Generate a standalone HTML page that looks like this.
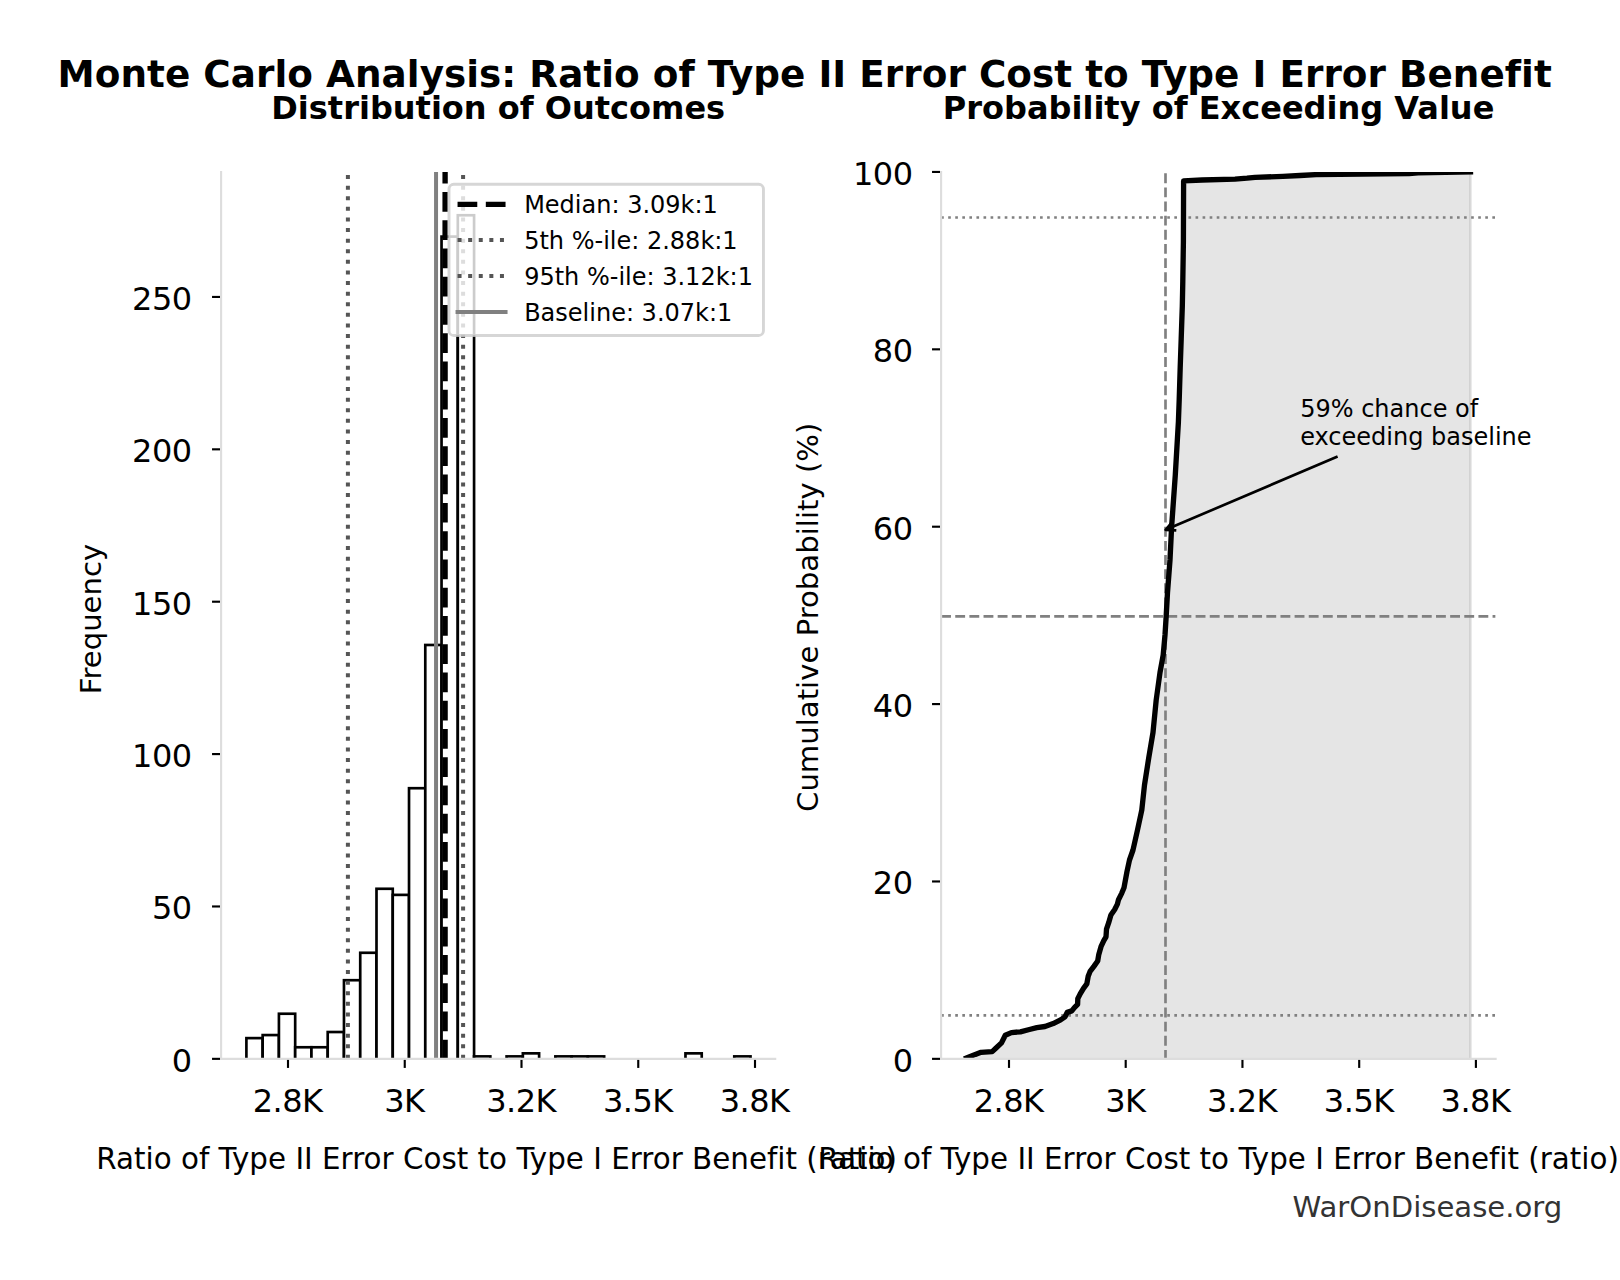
<!DOCTYPE html>
<html lang="en"><head><meta charset="utf-8"><title>Monte Carlo Analysis</title>
<style>html,body{margin:0;padding:0;background:#fff}body{width:1620px;height:1280px;overflow:hidden}svg{display:block}text{font-family:'DejaVu Sans','Liberation Sans',sans-serif;fill:#000;font-variant-ligatures:none;font-kerning:normal}</style>
</head><body>
<svg width="1620" height="1280" viewBox="0 0 1620 1280">
<rect width="1620" height="1280" fill="#ffffff"/>
<defs>
<clipPath id="c1"><rect x="221.1" y="172.0" width="554.1" height="886.8499999999999"/></clipPath>
<clipPath id="c2"><rect x="941.1" y="172.0" width="554.4999999999999" height="886.8499999999999"/></clipPath>
</defs>
<text x="57.6" y="87.2" font-size="37.333" font-weight="bold" textLength="1494.2" lengthAdjust="spacing">Monte Carlo Analysis: Ratio of Type II Error Cost to Type I Error Benefit</text>
<text x="498.2" y="118.7" font-size="32" font-weight="bold" text-anchor="middle">Distribution of Outcomes</text>
<text x="1218.6" y="118.7" font-size="32" font-weight="bold" text-anchor="middle">Probability of Exceeding Value</text>
<g id="hist">
<g clip-path="url(#c1)" fill="#ffffff" stroke="#000000" stroke-width="2.667" stroke-linejoin="miter">
<rect x="246.40" y="1038.12" width="16.26" height="22.23"/>
<rect x="262.66" y="1035.07" width="16.26" height="25.28"/>
<rect x="278.92" y="1013.74" width="16.26" height="46.61"/>
<rect x="295.19" y="1047.26" width="16.26" height="13.09"/>
<rect x="311.45" y="1047.26" width="16.26" height="13.09"/>
<rect x="327.71" y="1032.02" width="16.26" height="28.33"/>
<rect x="343.97" y="980.21" width="16.26" height="80.14"/>
<rect x="360.23" y="952.78" width="16.26" height="107.57"/>
<rect x="376.50" y="888.78" width="16.26" height="171.57"/>
<rect x="392.76" y="894.88" width="16.26" height="165.47"/>
<rect x="409.02" y="788.21" width="16.26" height="272.14"/>
<rect x="425.28" y="644.98" width="16.26" height="415.37"/>
<rect x="441.54" y="236.60" width="16.26" height="823.75"/>
<rect x="457.81" y="215.26" width="16.26" height="845.09"/>
<rect x="474.07" y="1056.40" width="16.26" height="3.95"/>
<rect x="506.59" y="1056.40" width="16.26" height="3.95"/>
<rect x="522.85" y="1053.35" width="16.26" height="7.00"/>
<rect x="555.38" y="1056.40" width="16.26" height="3.95"/>
<rect x="571.64" y="1056.40" width="16.26" height="3.95"/>
<rect x="587.90" y="1056.40" width="16.26" height="3.95"/>
<rect x="685.47" y="1053.35" width="16.26" height="7.00"/>
<rect x="734.26" y="1056.40" width="16.26" height="3.95"/>
</g>
<g clip-path="url(#c1)" fill="none">
<path d="M445.1 1059.55V172.0" stroke="#000" stroke-width="5.333" stroke-dasharray="19.73 8.53"/>
<path d="M347.9 1058.85V172.0" stroke="#555" stroke-width="4" stroke-dasharray="4 6.6"/>
<path d="M463.1 1058.85V172.0" stroke="#555" stroke-width="4" stroke-dasharray="4 6.6"/>
<path d="M436.05 1058.85V172.0" stroke="#808080" stroke-width="4"/>
</g>
<path d="M221.1 171.0V1058.85" stroke="#dddddd" stroke-width="2.13" fill="none"/>
<path d="M220.03 1058.85H776.2700000000001" stroke="#dddddd" stroke-width="2.13" fill="none"/>
<g stroke="#000" stroke-width="2.13" fill="none">
<path d="M288.0 1059.9199999999998v8"/>
<path d="M404.75 1059.9199999999998v8"/>
<path d="M521.5 1059.9199999999998v8"/>
<path d="M638.25 1059.9199999999998v8"/>
<path d="M755.0 1059.9199999999998v8"/>
<path d="M220.03 1058.85h-8"/>
<path d="M220.03 906.47h-8"/>
<path d="M220.03 754.09h-8"/>
<path d="M220.03 601.71h-8"/>
<path d="M220.03 449.33h-8"/>
<path d="M220.03 296.95h-8"/>
</g>
<g font-size="32" letter-spacing="-0.5">
<text x="287.60" y="1112" text-anchor="middle">2.8K</text>
<text x="404.35" y="1112" text-anchor="middle">3K</text>
<text x="521.10" y="1112" text-anchor="middle">3.2K</text>
<text x="637.85" y="1112" text-anchor="middle">3.5K</text>
<text x="754.60" y="1112" text-anchor="middle">3.8K</text>
<text x="191.6" y="1071.75" text-anchor="end">0</text>
<text x="191.6" y="919.37" text-anchor="end">50</text>
<text x="191.6" y="766.99" text-anchor="end">100</text>
<text x="191.6" y="614.61" text-anchor="end">150</text>
<text x="191.6" y="462.23" text-anchor="end">200</text>
<text x="191.6" y="309.85" text-anchor="end">250</text>
</g>
<text x="496.6" y="1169.0" font-size="29.333" text-anchor="middle" textLength="800.7" lengthAdjust="spacing">Ratio of Type II Error Cost to Type I Error Benefit (ratio)</text>
<text transform="translate(101.1 619) rotate(-90)" font-size="29.1" text-anchor="middle">Frequency</text>
<rect x="449.0" y="184.25" width="314.45" height="151.2" rx="4.8" ry="4.8" fill="#ffffff" fill-opacity="0.8" stroke="#cccccc" stroke-opacity="0.8" stroke-width="2.9"/>
<path d="M457.55 204.3H505.55" stroke="#000" stroke-width="5.333" stroke-dasharray="19.73 8.53" fill="none"/>
<path d="M457.55 240.0H505.55" stroke="#555" stroke-width="4" stroke-dasharray="4 6.6" fill="none"/>
<path d="M457.55 276.0H505.55" stroke="#555" stroke-width="4" stroke-dasharray="4 6.6" fill="none"/>
<path d="M457.55 312.0H505.55" stroke="#808080" stroke-width="4" fill="none" stroke-linecap="square"/>
<g font-size="24">
<text x="524.15" y="213.20">Median: 3.09k:1</text>
<text x="524.15" y="248.90">5th %-ile: 2.88k:1</text>
<text x="524.15" y="284.90">95th %-ile: 3.12k:1</text>
<text x="524.15" y="320.90">Baseline: 3.07k:1</text>
</g>
</g>
<g id="cdf">
<g clip-path="url(#c2)">
<path d="M966.5 1058.0 L975.3 1054.4 L981.0 1052.3 L992.2 1051.6 L995.8 1048.3 L1001.5 1042.9 L1005.3 1035.2 L1011.4 1032.6 L1020.4 1031.8 L1029.4 1029.5 L1036.8 1027.7 L1045.0 1026.5 L1053.2 1023.6 L1060.6 1019.9 L1065.0 1016.9 L1067.2 1012.4 L1071.8 1010.9 L1074.4 1007.6 L1077.6 1004.4 L1077.8 998.7 L1080.2 993.8 L1083.5 988.3 L1086.8 983.9 L1088.2 976.3 L1090.1 971.4 L1093.9 966.4 L1097.7 961.0 L1098.8 954.4 L1101.0 946.7 L1103.8 940.7 L1106.0 936.9 L1106.5 929.2 L1108.7 922.7 L1110.9 915.0 L1114.7 909.5 L1117.4 904.1 L1118.5 899.7 L1121.8 893.1 L1124.0 887.7 L1127.0 871.5 L1129.5 860.0 L1133.0 850.0 L1137.5 830.0 L1141.8 810.0 L1144.5 785.0 L1148.8 757.5 L1153.0 732.5 L1156.2 700.0 L1160.0 672.5 L1163.2 655.0 L1165.0 635.0 L1166.2 616.0 L1167.5 592.5 L1170.0 560.0 L1171.6 527.0 L1175.3 475.0 L1178.4 422.0 L1179.2 399.8 L1180.2 367.5 L1181.2 338.8 L1182.3 306.4 L1182.8 281.3 L1183.4 241.8 L1183.6 180.9 L1202.0 180.0 L1235.0 179.1 L1247.0 178.2 L1255.0 177.3 L1283.0 176.4 L1300.0 175.5 L1316.0 174.6 L1409.0 173.7 L1418.0 172.8 L1470.5 171.9 L1470.5 1060.35 L966.5 1060.35Z" fill="#000" fill-opacity="0.1" stroke="#000" stroke-opacity="0.1" stroke-width="2.667" stroke-linejoin="miter"/>
<path d="M1165.5 1059.85V172.0" stroke="#808080" stroke-width="2.667" stroke-dasharray="9.87 4.27" fill="none"/>
<path d="M941.1 616.3H1495.6" stroke="#808080" stroke-width="2.667" stroke-dasharray="9.87 4.27" fill="none"/>
<path d="M941.1 217.5H1495.6" stroke="#808080" stroke-width="2.667" stroke-dasharray="2.667 4.4" fill="none"/>
<path d="M941.1 1015.3H1495.6" stroke="#808080" stroke-width="2.667" stroke-dasharray="2.667 4.4" fill="none"/>
<path d="M966.5 1058.0 L975.3 1054.4 L981.0 1052.3 L992.2 1051.6 L995.8 1048.3 L1001.5 1042.9 L1005.3 1035.2 L1011.4 1032.6 L1020.4 1031.8 L1029.4 1029.5 L1036.8 1027.7 L1045.0 1026.5 L1053.2 1023.6 L1060.6 1019.9 L1065.0 1016.9 L1067.2 1012.4 L1071.8 1010.9 L1074.4 1007.6 L1077.6 1004.4 L1077.8 998.7 L1080.2 993.8 L1083.5 988.3 L1086.8 983.9 L1088.2 976.3 L1090.1 971.4 L1093.9 966.4 L1097.7 961.0 L1098.8 954.4 L1101.0 946.7 L1103.8 940.7 L1106.0 936.9 L1106.5 929.2 L1108.7 922.7 L1110.9 915.0 L1114.7 909.5 L1117.4 904.1 L1118.5 899.7 L1121.8 893.1 L1124.0 887.7 L1127.0 871.5 L1129.5 860.0 L1133.0 850.0 L1137.5 830.0 L1141.8 810.0 L1144.5 785.0 L1148.8 757.5 L1153.0 732.5 L1156.2 700.0 L1160.0 672.5 L1163.2 655.0 L1165.0 635.0 L1166.2 616.0 L1167.5 592.5 L1170.0 560.0 L1171.6 527.0 L1175.3 475.0 L1178.4 422.0 L1179.2 399.8 L1180.2 367.5 L1181.2 338.8 L1182.3 306.4 L1182.8 281.3 L1183.4 241.8 L1183.6 180.9 L1202.0 180.0 L1235.0 179.1 L1247.0 178.2 L1255.0 177.3 L1283.0 176.4 L1300.0 175.5 L1316.0 174.6 L1409.0 173.7 L1418.0 172.8 L1470.5 171.9" fill="none" stroke="#000" stroke-width="5.333" stroke-linejoin="round" stroke-linecap="square"/>
</g>
<path d="M941.1 171.0V1058.85" stroke="#dddddd" stroke-width="2.13" fill="none"/>
<path d="M940.03 1058.85H1496.6699999999998" stroke="#dddddd" stroke-width="2.13" fill="none"/>
<g stroke="#000" stroke-width="2.13" fill="none">
<path d="M1009.0 1059.9199999999998v8"/>
<path d="M1125.7 1059.9199999999998v8"/>
<path d="M1242.45 1059.9199999999998v8"/>
<path d="M1359.2 1059.9199999999998v8"/>
<path d="M1475.9 1059.9199999999998v8"/>
<path d="M940.03 1058.85h-8"/>
<path d="M940.03 881.47h-8"/>
<path d="M940.03 704.09h-8"/>
<path d="M940.03 526.71h-8"/>
<path d="M940.03 349.33h-8"/>
<path d="M940.03 171.95h-8"/>
</g>
<g font-size="32" letter-spacing="-0.5">
<text x="1008.60" y="1112" text-anchor="middle">2.8K</text>
<text x="1125.30" y="1112" text-anchor="middle">3K</text>
<text x="1242.05" y="1112" text-anchor="middle">3.2K</text>
<text x="1358.80" y="1112" text-anchor="middle">3.5K</text>
<text x="1475.50" y="1112" text-anchor="middle">3.8K</text>
<text x="912.5" y="1071.75" text-anchor="end">0</text>
<text x="912.5" y="894.37" text-anchor="end">20</text>
<text x="912.5" y="716.99" text-anchor="end">40</text>
<text x="912.5" y="539.61" text-anchor="end">60</text>
<text x="912.5" y="362.23" text-anchor="end">80</text>
<text x="912.5" y="184.85" text-anchor="end">100</text>
</g>
<text x="1218.6" y="1169.0" font-size="29.333" text-anchor="middle" textLength="800.7" lengthAdjust="spacing">Ratio of Type II Error Cost to Type I Error Benefit (ratio)</text>
<text transform="translate(817.6 617.3) rotate(-90)" font-size="29.15" text-anchor="middle">Cumulative Probability (%)</text>
<g font-size="24"><text x="1300.2" y="416.5">59% chance of</text><text x="1300.2" y="444.5">exceeding baseline</text></g>
<path d="M1337.6 456.5L1165.6 529.8M1176.31 530.45L1165.6 529.8L1172.55 521.62" stroke="#000" stroke-width="2.667" fill="none" stroke-linejoin="round" stroke-linecap="butt"/>
</g>
<text x="1562.3" y="1217.2" font-size="29.13" text-anchor="end" style="fill:#333333">WarOnDisease.org</text>
</svg></body></html>
